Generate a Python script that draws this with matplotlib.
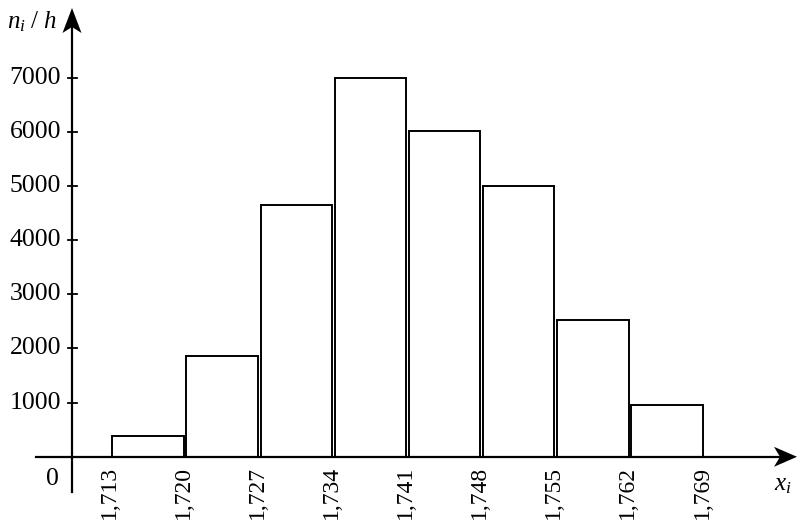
import matplotlib
matplotlib.use("Agg")
import matplotlib.pyplot as plt
import numpy as np

# Data
bin_edges = [1.713, 1.720, 1.727, 1.734, 1.741, 1.748, 1.755, 1.762, 1.769]
edge_labels = ["1,713", "1,720", "1,727", "1,734", "1,741", "1,748", "1,755", "1,762", "1,769"]
heights = [390, 1860, 4640, 7000, 6010, 5000, 2530, 950]
y_ticks = [1000, 2000, 3000, 4000, 5000, 6000, 7000]

plt.rcParams['mathtext.fontset'] = 'custom'
plt.rcParams['mathtext.rm'] = 'Liberation Serif'
plt.rcParams['mathtext.it'] = 'Liberation Serif:italic'
plt.rcParams['font.family'] = ['Liberation Serif', 'DejaVu Serif']

W, H = 797, 523
fig = plt.figure(figsize=(W / 100, H / 100), dpi=100)
ax = fig.add_axes([0, 0, 1, 1])
ax.set_axis_off()

# pixel mapping
px_per_x = 10589.0
x0 = 1.713 - 111 / px_per_x
px_per_y = 0.05417
y_zero_px = 456.8
ax.set_xlim(x0, x0 + W / px_per_x)
ax.set_ylim((y_zero_px - H) / px_per_y, y_zero_px / px_per_y)

def px2x(p):
    return x0 + p / px_per_x

def py2y(p):
    return (y_zero_px - p) / px_per_y

edges = np.array(bin_edges)
widths = np.diff(edges)
gap = 0.00012
ax.bar(edges[:-1] + gap, heights, width=widths - 2 * gap, align='edge',
       facecolor='white', edgecolor='black', linewidth=1.4, zorder=2)

# axes lines
yaxis_x_px = 72
yaxis_x = px2x(yaxis_x_px)
ax.plot([px2x(36), px2x(785)], [0, 0], color='black', lw=1.6, zorder=3)
ax.plot([yaxis_x, yaxis_x], [py2y(492), py2y(20)], color='black', lw=1.6, zorder=3)

# stealth arrowheads (pixel geometry)
axis_px_y = y_zero_px
xh = [(797, axis_px_y), (774, axis_px_y - 10), (780, axis_px_y), (774, axis_px_y + 10)]
ax.fill([px2x(p[0]) for p in xh], [py2y(p[1]) for p in xh], color='black', lw=0, zorder=4)
yh = [(yaxis_x_px, 8), (yaxis_x_px - 9.5, 33), (yaxis_x_px, 27), (yaxis_x_px + 9.5, 33)]
ax.fill([px2x(p[0]) for p in yh], [py2y(p[1]) for p in yh], color='black', lw=0, zorder=4)

# y ticks
for v in y_ticks:
    ax.plot([px2x(67.5), px2x(77)], [v, v], color='black', lw=1.3, zorder=3)
    ax.text(px2x(61), v, str(v), ha='right', va='center', fontsize=18.5)

# x tick labels
for xv, lab in zip(bin_edges, edge_labels):
    ax.text(xv - 2 / px_per_x, py2y(466), lab, rotation=90, ha='center', va='top',
            fontsize=17)

ax.text(px2x(52), py2y(479), '0', ha='center', va='center', fontsize=18.5)
ax.text(px2x(32), py2y(22), r'$n_i\ /\ h$', ha='center', va='center', fontsize=18)
ax.text(px2x(783), py2y(485), r'$x_i$', ha='center', va='center', fontsize=18)

fig.savefig('out.png', dpi=100)
